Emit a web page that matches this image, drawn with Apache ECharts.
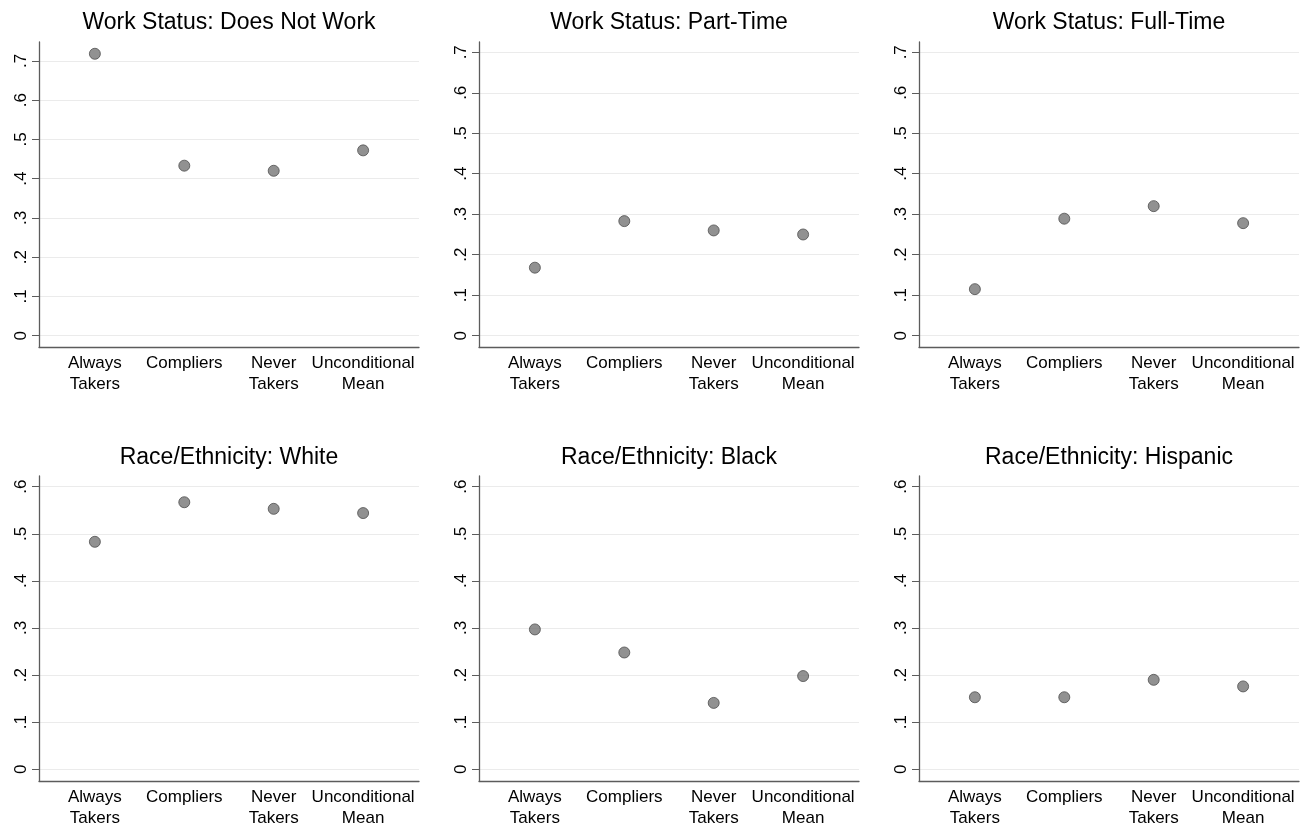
<!DOCTYPE html>
<html>
<head>
<meta charset="utf-8">
<script src="https://cdn.jsdelivr.net/npm/echarts@6/dist/echarts.min.js"></script>
<style>
  html, body { margin: 0; padding: 0; background: #fff; }
  #chart { width: 1314px; height: 829px; }
</style>
</head>
<body>
<div id="chart"></div>
<script>
// ---- data ----
const categories = ['Always\nTakers', 'Compliers', 'Never\nTakers', 'Unconditional\nMean'];
const categoryPositions = [1, 2, 3, 4];
const panelTitles = [
  'Work Status: Does Not Work', 'Work Status: Part-Time', 'Work Status: Full-Time',
  'Race/Ethnicity: White', 'Race/Ethnicity: Black', 'Race/Ethnicity: Hispanic'
];
const doesNotWork = [0.718, 0.433, 0.420, 0.472];
const partTime    = [0.168, 0.283, 0.260, 0.250];
const fullTime    = [0.115, 0.289, 0.320, 0.278];
const white       = [0.483, 0.567, 0.553, 0.544];
const black       = [0.297, 0.248, 0.141, 0.198];
const hispanic    = [0.153, 0.153, 0.190, 0.176];
const yTicksWork  = [0, 0.1, 0.2, 0.3, 0.4, 0.5, 0.6, 0.7];
const yTicksRace  = [0, 0.1, 0.2, 0.3, 0.4, 0.5, 0.6];

const panelValues = [doesNotWork, partTime, fullTime, white, black, hispanic];
const panelTicks = [yTicksWork, yTicksWork, yTicksWork, yTicksRace, yTicksRace, yTicksRace];
// axis ranges (Stata-like padding around ticks)
const panelYRange = [
  [-0.0288, 0.748], [-0.0279, 0.7254], [-0.0279, 0.7254],
  [-0.0248, 0.6227], [-0.0248, 0.6227], [-0.0248, 0.6227]
];

// ---- layout ----
const FONT = '"Liberation Sans", Arial, Helvetica, sans-serif';
const colLeft = [39, 479, 919];
const rowTop = [42, 476];
const gridW = 380, gridH = 305;
const titleCenterY = [23, 457.7];
const axisColor = '#5c5c5c';

const grids = [], xAxes = [], yAxes = [], series = [], titles = [];
for (let i = 0; i < 6; i++) {
  const c = i % 3, r = Math.floor(i / 3);
  grids.push({
    left: colLeft[c], top: rowTop[r], width: gridW, height: gridH,
    containLabel: false, outerBoundsMode: 'none'
  });
  titles.push({
    text: panelTitles[i],
    left: colLeft[c] + gridW / 2,
    top: titleCenterY[r] - 13,
    textAlign: 'center',
    padding: 0,
    textStyle: { fontFamily: FONT, fontSize: 23, fontWeight: 'normal', color: '#000', lineHeight: 26 }
  });
  xAxes.push({
    type: 'value', gridIndex: i, min: 0.375, max: 4.625,
    axisLine: { show: true, onZero: false, lineStyle: { color: axisColor, width: 1.3 } },
    axisTick: { show: false },
    splitLine: { show: false },
    axisLabel: {
      customValues: categoryPositions,
      formatter: v => categories[Math.round(v) - 1] || '',
      fontFamily: FONT, fontSize: 17, color: '#000', lineHeight: 21, margin: 6,
      hideOverlap: false
    }
  });
  yAxes.push({
    type: 'value', gridIndex: i, min: panelYRange[i][0], max: panelYRange[i][1],
    axisLine: { show: true, onZero: false, lineStyle: { color: axisColor, width: 1.3 } },
    axisTick: { show: true, customValues: panelTicks[i], length: 7, lineStyle: { color: axisColor, width: 1 } },
    splitLine: { show: true, lineStyle: { color: '#ebebeb', width: 1.2 } },
    axisLabel: {
      customValues: panelTicks[i],
      rotate: 90,
      formatter: v => (v === 0 ? '0' : String(v).replace(/^0/, '')),
      fontFamily: FONT, fontSize: 17, color: '#000', margin: 9,
      hideOverlap: false
    }
  });
  series.push({
    type: 'scatter', xAxisIndex: i, yAxisIndex: i,
    symbol: 'circle', symbolSize: 11,
    itemStyle: { color: '#767676', borderColor: '#4f4f4f', borderWidth: 1 },
    data: panelValues[i].map((v, k) => [categoryPositions[k], v]),
    silent: true
  });
}

const chart = echarts.init(document.getElementById('chart'), null, { renderer: 'canvas' });
chart.setOption({
  backgroundColor: '#fff',
  animation: false,
  title: titles,
  grid: grids,
  xAxis: xAxes,
  yAxis: yAxes,
  series: series
});
</script>
</body>
</html>
